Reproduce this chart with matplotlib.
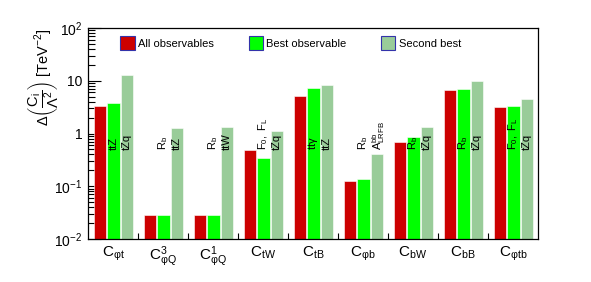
import matplotlib
matplotlib.use("Agg")
import matplotlib.pyplot as plt
from matplotlib.patches import Patch
import matplotlib.ticker as mticker
import numpy as np

plt.rcParams['font.family'] = ['Liberation Sans', 'DejaVu Sans']
plt.rcParams['mathtext.fontset'] = 'custom'
plt.rcParams['mathtext.rm'] = 'Liberation Sans'
plt.rcParams['mathtext.it'] = 'Liberation Sans'
plt.rcParams['mathtext.bf'] = 'Liberation Sans:bold'
plt.rcParams['mathtext.default'] = 'regular'

categories = [r"$C_{\varphi t}$", r"$C^{3}_{\varphi Q}$", r"$C^{1}_{\varphi Q}$",
              r"$C_{tW}$", r"$C_{tB}$", r"$C_{\varphi b}$", r"$C_{bW}$",
              r"$C_{bB}$", r"$C_{\varphi tb}$"]
all_obs = [3.3, 0.0285, 0.0285, 0.49, 5.07, 0.126, 0.70, 6.58, 3.14]
best_obs = [3.84, 0.029, 0.029, 0.35, 7.38, 0.135, 0.86, 6.87, 3.32]
second_best = [12.9, 1.25, 1.33, 1.13, 8.3, 0.41, 1.35, 10.0, 4.51]
best_labels = ["ttZ", r"$R_b$", r"$R_b$", r"$F_0,\ F_L$", r"tt$\gamma$", r"$R_b$",
               r"$R_b$", r"$R_b$", r"$F_0,\ F_L$"]
second_labels = ["tZq", "ttZ", "ttW", "tZq", "ttZ", r"$A^{bb}_{LRFB}$",
                 "tZq", "tZq", "tZq"]
series_names = ["All observables", "Best observable", "Second best"]
colors = ["#CC0000", "#00FF00", "#99CC99"]

fig = plt.figure(figsize=(5.91, 2.82), dpi=100)
ax = fig.add_axes([88/591, 1-239/282, (538-88)/591, (239-28)/282])

n = len(categories)
idx = np.arange(n)
width = 0.245
offsets = [0.11, 0.385, 0.66]
for vals, off, col in zip([all_obs, best_obs, second_best], offsets, colors):
    ax.bar(idx + off, vals, width=width, align='edge', color=col,
           edgecolor='white', linewidth=0.4, zorder=2)

label_y = 0.48
for i in range(n):
    ax.text(i + offsets[1] + width/2, label_y, best_labels[i], rotation=90,
            ha='center', va='bottom', fontsize=8, zorder=3)
    ax.text(i + offsets[2] + width/2 + (0.02 if i == 5 else 0), label_y,
            second_labels[i], rotation=90,
            ha='center', va='bottom', fontsize=8, zorder=3)

ax.set_yscale('log')
ax.set_ylim(1e-2, 1e2)
ax.set_xlim(0, n)

ax.yaxis.set_major_locator(mticker.FixedLocator([1e-2, 1e-1, 1, 10, 100]))
ax.yaxis.set_major_formatter(mticker.FixedFormatter(
    [r"$10^{-2}$", r"$10^{-1}$", "1", "10", r"$10^{2}$"]))
ax.yaxis.set_minor_locator(mticker.LogLocator(base=10, subs=np.arange(2, 10)))
ax.yaxis.set_minor_formatter(mticker.NullFormatter())
ax.tick_params(axis='y', which='major', direction='in', length=9, width=0.8,
               labelsize=10, pad=4)
ax.tick_params(axis='y', which='minor', direction='in', length=5, width=0.8)
ax.tick_params(axis='y', which='both', right=False)

ax.set_xticks(idx + 0.5)
ax.set_xticklabels(categories, fontsize=11)
ax.set_xticks(np.arange(1, n), minor=True)
ax.tick_params(axis='x', which='major', length=0, pad=4)
ax.tick_params(axis='x', which='minor', direction='in', length=4, width=0.8)

for s in ax.spines.values():
    s.set_linewidth(0.9)

handles = [Patch(facecolor=c, edgecolor='#3333AA', linewidth=0.8) for c in colors]
ax.legend(handles, series_names, ncol=3, loc='upper left',
          bbox_to_anchor=(28/450, 1 - 4/211), frameon=False, fontsize=8,
          handlelength=1.3, handleheight=1.45, handletextpad=0.3,
          columnspacing=3.1, borderaxespad=0)

fig.text(44/591, 1 - 77/282,
         r"$\Delta\left(\dfrac{C_i}{\Lambda^2}\right)$ [TeV$^{-2}$]",
         rotation=90, ha='center', va='center', fontsize=10.5)

fig.savefig("out.png", dpi=100)
